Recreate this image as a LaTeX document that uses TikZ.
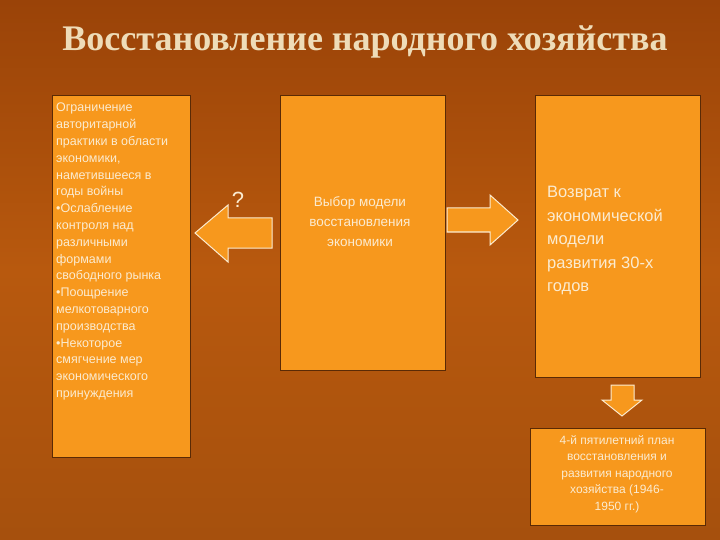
\documentclass[tikz,border=0pt]{standalone}
\usepackage{fontspec}
\setmainfont{Liberation Sans}
\newfontfamily\titlefont{Liberation Serif}
\definecolor{bg}{HTML}{B8590E}
\definecolor{bgd}{HTML}{9A4308}
\definecolor{box}{HTML}{F7981D}
\definecolor{txt}{HTML}{FBEBD0}
\definecolor{ttl}{HTML}{EEDCB8}
\definecolor{edge}{HTML}{5A2A05}
\tikzset{
 panel/.style={draw=edge,line width=0.6pt,fill=box},
 arr/.style={draw=txt,line width=1pt,fill=box},
 ptext/.style={text=txt,align=left,font=\fontsize{12.5}{16.8}\selectfont},
}
\begin{document}
\begin{tikzpicture}[x=1pt,y=-1pt]
\shade[top color=bgd,bottom color=bg!90!black,middle color=bg] (0,0) rectangle (720,540);
\useasboundingbox (0,0) rectangle (720,540);
\node (title) at (365,42) {\titlefont\bfseries\color{ttl}\fontsize{36}{40}\selectfont Восстановление народного хозяйства};
\draw[panel] (52,95) rectangle (190,457);
\draw[panel] (280,95) rectangle (445,370);
\draw[panel] (535,95) rectangle (700,377);
\draw[panel] (530,428) rectangle (705,525);
\node[ptext,anchor=north west,inner sep=0pt] (t1) at (56,103) {Ограничение\\авторитарной\\практики в области\\экономики,\\наметившееся в\\годы войны\\•Ослабление\\контроля над\\различными\\формами\\свободного рынка\\•Поощрение\\мелкотоварного\\производства\\•Некоторое\\смягчение мер\\экономического\\принуждения};
\node[ptext,align=center,font=\fontsize{13.5}{20}\selectfont] (t2) at (360,222) {Выбор модели\\восстановления\\экономики};
\node[text=txt,align=left,anchor=north west,inner sep=0pt,font=\fontsize{16.5}{23.5}\selectfont] (t3) at (547,186) {Возврат к\\экономической\\модели\\развития 30-х\\годов};
\node[ptext,align=center,font=\fontsize{12}{16.5}\selectfont] (t4) at (617,474) {4-й пятилетний план\\восстановления и\\развития народного\\хозяйства (1946-\\1950 гг.)};
\node[text=txt,font=\fontsize{22}{24}\selectfont] (q) at (238,200) {?};
\draw[arr] (272,218) -- (228,218) -- (228,205) -- (195,233) -- (228,262) -- (228,248) -- (272,248) -- cycle;
\draw[arr] (447,208) -- (490,208) -- (490,195) -- (518,220) -- (490,245) -- (490,232) -- (447,232) -- cycle;
\draw[arr] (611,385) -- (634,385) -- (634,400) -- (642,400) -- (622,416) -- (602,400) -- (611,400) -- cycle;
\end{tikzpicture}
\end{document}
